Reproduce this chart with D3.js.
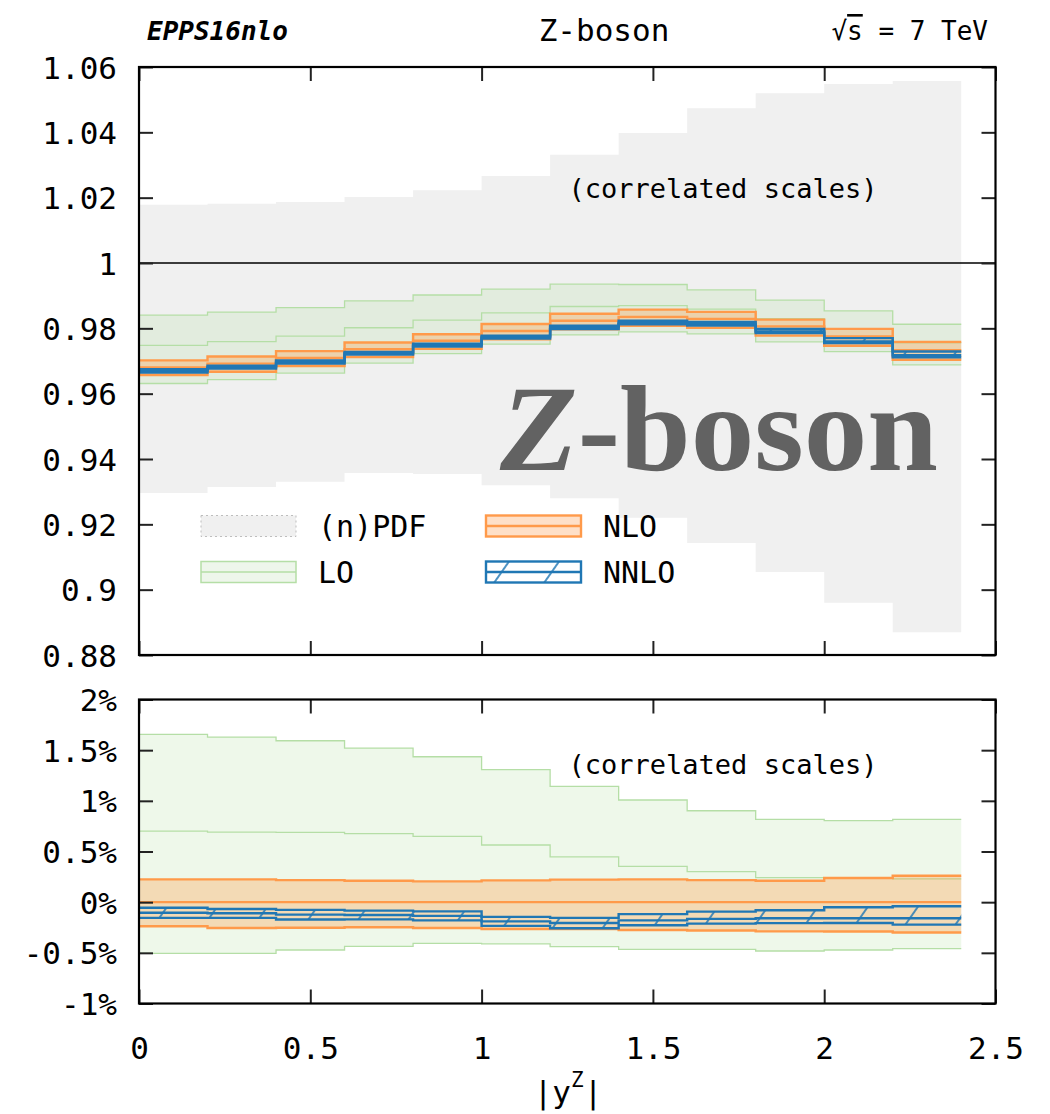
<!DOCTYPE html>
<html>
<head>
<meta charset="utf-8">
<script src="https://cdn.jsdelivr.net/npm/d3@7"></script>
<style>
  body { margin: 0; background: #fff; }
  svg text { font-family: "DejaVu Sans Mono", monospace; fill: #000; }
</style>
</head>
<body>
<svg id="chart" width="1050" height="1114"></svg>
<script>
// Rapidity bins |y^Z|
const binEdges = [0, 0.2, 0.4, 0.6, 0.8, 1.0, 1.2, 1.4, 1.6, 1.8, 2.0, 2.2, 2.4];

// NLO central nuclear modification per bin
const nloCentral = [0.9680, 0.9692, 0.9709, 0.9736, 0.9762, 0.9792, 0.9823, 0.9835, 0.9829, 0.9806, 0.9775, 0.9733];

// (n)PDF uncertainty band, absolute ratio
const pdfHi = [1.0178, 1.0181, 1.0187, 1.0202, 1.0223, 1.0266, 1.0331, 1.0398, 1.0474, 1.0520, 1.0548, 1.0557];
const pdfLo = [0.9296, 0.9314, 0.9330, 0.9357, 0.9354, 0.9320, 0.9280, 0.9220, 0.9143, 0.9054, 0.8960, 0.8870];

// Scale-variation bands, in percent relative to the NLO central value
const loHi   = [1.655, 1.629, 1.593, 1.521, 1.435, 1.307, 1.142, 1.008, 0.902, 0.817, 0.804, 0.817];
const loMid  = [0.702, 0.692, 0.689, 0.676, 0.649, 0.564, 0.446, 0.353, 0.301, 0.242, 0.236, 0.230];
const loLo   = [-0.505, -0.505, -0.472, -0.436, -0.406, -0.412, -0.439, -0.465, -0.465, -0.482, -0.472, -0.459];
const nloHi  = [0.225, 0.225, 0.218, 0.212, 0.205, 0.215, 0.222, 0.225, 0.218, 0.212, 0.238, 0.261];
const nloMid = [0, 0, 0, 0, 0, 0, 0, 0, 0, 0, 0, 0];
const nloLo  = [-0.238, -0.255, -0.252, -0.248, -0.255, -0.265, -0.265, -0.275, -0.280, -0.288, -0.290, -0.300];
const nnloHi  = [-0.055, -0.068, -0.076, -0.083, -0.091, -0.145, -0.155, -0.118, -0.093, -0.080, -0.050, -0.040];
const nnloMid = [-0.105, -0.110, -0.123, -0.126, -0.135, -0.190, -0.205, -0.180, -0.165, -0.158, -0.158, -0.158];
const nnloLo  = [-0.155, -0.155, -0.171, -0.170, -0.180, -0.234, -0.258, -0.228, -0.212, -0.207, -0.205, -0.222];

// Axis ticks
const xTicks = [0, 0.5, 1, 1.5, 2, 2.5];
const topTicks = [0.88, 0.9, 0.92, 0.94, 0.96, 0.98, 1, 1.02, 1.04, 1.06];
const botTicks = [-1, -0.5, 0, 0.5, 1, 1.5, 2];

// Legend entries
const legendItems = [
  { key: "pdf",  label: "(n)PDF" },
  { key: "nlo",  label: "NLO" },
  { key: "lo",   label: "LO" },
  { key: "nnlo", label: "NNLO" }
];

const C = {
  pdf: "#f0f0f0",
  loLine: "#b5dea6", loFill: "rgba(170,220,150,0.2)",
  nloLine: "#ff9a4a", nloFill: "rgba(255,150,60,0.3)",
  nnloLine: "#2077b4"
};

const svg = d3.select("#chart");
const L = 139, R = 995.5;
const x = d3.scaleLinear().domain([0, 2.5]).range([L, R]);
const yTop = d3.scaleLinear().domain([0.88, 1.06]).range([655, 67]);
const yBot = d3.scaleLinear().domain([-1, 2]).range([1003.5, 699.5]);

const defs = svg.append("defs");
defs.append("clipPath").attr("id", "clipTop").append("rect")
  .attr("x", L).attr("y", yTop(1.06)).attr("width", R - L).attr("height", yTop(0.88) - yTop(1.06));
defs.append("clipPath").attr("id", "clipBot").append("rect")
  .attr("x", L).attr("y", yBot(2)).attr("width", R - L).attr("height", yBot(-1) - yBot(2));
const hatch = defs.append("pattern").attr("id", "hatch")
  .attr("patternUnits", "userSpaceOnUse").attr("width", 41).attr("height", 41)
  .attr("patternTransform", "rotate(35)");
hatch.append("line").attr("x1", 1).attr("y1", 0).attr("x2", 1).attr("y2", 41)
  .attr("stroke", C.nnloLine).attr("stroke-width", 1.6);

// helpers
const steps = vals => binEdges.map((e, i) => ({ x: e, v: vals[Math.min(i, vals.length - 1)] }));
const asRatio = pct => pct.map((p, i) => nloCentral[i] * (1 + p / 100));

function band(g, ys, lo, mid, hi, fill, line, lw, pattern) {
  const data = binEdges.map((e, i) => {
    const k = Math.min(i, lo.length - 1);
    return { x: e, lo: lo[k], hi: hi[k] };
  });
  g.append("path").datum(data)
    .attr("d", d3.area().curve(d3.curveStepAfter).x(d => x(d.x)).y0(d => ys(d.lo)).y1(d => ys(d.hi)))
    .attr("fill", pattern ? "url(#hatch)" : fill).attr("stroke", "none");
  const ln = d3.line().curve(d3.curveStepAfter).x(d => x(d.x)).y(d => ys(d.v));
  [hi, mid, lo].forEach(s => {
    if (!s) return;
    g.append("path").datum(steps(s)).attr("d", ln)
      .attr("fill", "none").attr("stroke", line).attr("stroke-width", lw);
  });
}

// ---------- top panel ----------
const gTop = svg.append("g").attr("clip-path", "url(#clipTop)");
{
  const data = binEdges.map((e, i) => { const k = Math.min(i, pdfHi.length - 1); return { x: e, lo: pdfLo[k], hi: pdfHi[k] }; });
  gTop.append("path").datum(data)
    .attr("d", d3.area().curve(d3.curveStepAfter).x(d => x(d.x)).y0(d => yTop(d.lo)).y1(d => yTop(d.hi)))
    .attr("fill", C.pdf);
}
gTop.append("line").attr("x1", L).attr("x2", R).attr("y1", yTop(1)).attr("y2", yTop(1))
  .attr("stroke", "#000").attr("stroke-width", 1.6);
band(gTop, yTop, asRatio(loLo), asRatio(loMid), asRatio(loHi), C.loFill, C.loLine, 1.3);
band(gTop, yTop, asRatio(nloLo), asRatio(nloMid), asRatio(nloHi), C.nloFill, C.nloLine, 2.4);
band(gTop, yTop, asRatio(nnloLo), asRatio(nnloMid), asRatio(nnloHi), null, C.nnloLine, 2.4, true);

svg.append("text").attr("x", 723).attr("y", 188).attr("text-anchor", "middle")
  .attr("dominant-baseline", "central").style("font-size", "27px").text("(correlated scales)");

const big = svg.append("text").attr("x", 500).attr("y", 470)
  .style("font-family", "'Liberation Serif', 'DejaVu Serif', serif").style("font-weight", "bold")
  .style("font-size", "122px").style("fill", "#626262")
  .attr("textLength", 438).attr("lengthAdjust", "spacingAndGlyphs");
big.append("tspan").style("font-style", "italic").text("Z");
big.append("tspan").text("-boson");

// legend
const legPos = [
  { sx: 201, ty: 526 }, { sx: 486, ty: 526 }, { sx: 201, ty: 572 }, { sx: 486, ty: 572 }
];
const legG = svg.append("g");
legendItems.forEach((it, i) => {
  const p = legPos[i], w = 95, h = 21, y0 = p.ty - h / 2;
  const g = legG.append("g");
  if (it.key === "pdf") {
    g.append("rect").attr("x", p.sx).attr("y", y0).attr("width", w).attr("height", h)
      .attr("fill", C.pdf).attr("stroke", "#bdbdbd").attr("stroke-width", 1).attr("stroke-dasharray", "2,3");
  } else {
    const col = it.key === "lo" ? C.loLine : it.key === "nlo" ? C.nloLine : C.nnloLine;
    const fill = it.key === "lo" ? "#eef6eb" : it.key === "nlo" ? "#fee0c8" : "#ffffff";
    const lw = it.key === "lo" ? 1.5 : 2.4;
    g.append("rect").attr("x", p.sx).attr("y", y0).attr("width", w).attr("height", h)
      .attr("fill", fill).attr("stroke", col).attr("stroke-width", lw);
    if (it.key === "nnlo") {
      g.append("rect").attr("x", p.sx).attr("y", y0).attr("width", w).attr("height", h)
        .attr("fill", "url(#hatch)").attr("stroke", "none");
    }
    g.append("line").attr("x1", p.sx).attr("x2", p.sx + w).attr("y1", p.ty).attr("y2", p.ty)
      .attr("stroke", col).attr("stroke-width", lw);
  }
  g.append("text").attr("x", p.sx + 117).attr("y", p.ty).attr("dominant-baseline", "central")
    .style("font-size", "30px").text(it.label);
});

// ---------- bottom panel ----------
const gBot = svg.append("g").attr("clip-path", "url(#clipBot)");
band(gBot, yBot, loLo, loMid, loHi, C.loFill, C.loLine, 1.3);
band(gBot, yBot, nloLo, nloMid, nloHi, C.nloFill, C.nloLine, 2.4);
band(gBot, yBot, nnloLo, nnloMid, nnloHi, null, C.nnloLine, 2.4, true);

svg.append("text").attr("x", 723).attr("y", 764).attr("text-anchor", "middle")
  .attr("dominant-baseline", "central").style("font-size", "27px").text("(correlated scales)");

// ---------- axes and frames ----------
function styleAxis(g, labels) {
  g.select(".domain").remove();
  g.selectAll(".tick line").attr("stroke", "#222").attr("stroke-width", 2);
  g.selectAll(".tick text").style("font-size", "31px").style("font-family", "'DejaVu Sans Mono', monospace").attr("fill", "#000");
  if (!labels) g.selectAll(".tick text").remove();
}
const TS = -14;
[[yTop, topTicks, d => String(d)], [yBot, botTicks, d => String(d) + "%"]].forEach(([ys, tv, fmt]) => {
  const y0 = ys.range()[1], y1 = ys.range()[0];
  styleAxis(svg.append("g").attr("transform", `translate(${L},0)`)
    .call(d3.axisLeft(ys).tickValues(tv).tickSize(TS).tickPadding(22).tickFormat(fmt)), true);
  styleAxis(svg.append("g").attr("transform", `translate(${R},0)`)
    .call(d3.axisRight(ys).tickValues(tv).tickSize(TS)), false);
  styleAxis(svg.append("g").attr("transform", `translate(0,${y0})`)
    .call(d3.axisTop(x).tickValues(xTicks).tickSize(TS)), false);
  styleAxis(svg.append("g").attr("transform", `translate(0,${y1})`)
    .call(d3.axisBottom(x).tickValues(xTicks).tickSize(TS).tickPadding(44).tickFormat(d => String(d))), ys === yBot);
  svg.append("rect").attr("x", L).attr("y", y0).attr("width", R - L).attr("height", y1 - y0)
    .attr("fill", "none").attr("stroke", "#000").attr("stroke-width", 2.2);
});
svg.selectAll(".tick text").attr("dy", null).attr("dominant-baseline", "central");

// x-axis title |y^Z|
const xt = svg.append("text").attr("x", 568).attr("y", 1092).attr("text-anchor", "middle")
  .attr("dominant-baseline", "central").style("font-size", "31px");
xt.append("tspan").text("|y");
xt.append("tspan").attr("dy", -12).style("font-size", "21px").text("Z");
xt.append("tspan").attr("dy", 12).text("|");

// header
svg.append("text").attr("x", 147).attr("y", 31).attr("dominant-baseline", "central")
  .style("font-size", "26px").style("font-weight", "bold").style("font-style", "italic").text("EPPS16nlo");
svg.append("text").attr("x", 604).attr("y", 30).attr("text-anchor", "middle").attr("dominant-baseline", "central")
  .style("font-size", "31px").text("Z-boson");
const rs = svg.append("text").attr("x", 988).attr("y", 31).attr("text-anchor", "end").attr("dominant-baseline", "central")
  .style("font-size", "26px");
rs.append("tspan").text("√");
rs.append("tspan").style("text-decoration", "overline").text("s");
rs.append("tspan").text(" = 7 TeV");
</script>
</body>
</html>
